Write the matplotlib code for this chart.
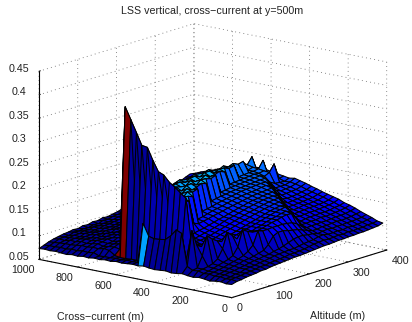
import numpy as np
import matplotlib
matplotlib.use("Agg")
import matplotlib.pyplot as plt
from matplotlib import colors as mcolors
from mpl_toolkits.mplot3d import Axes3D  # noqa

plt.rcParams['font.family'] = ['Liberation Sans', 'DejaVu Sans']

title = "LSS vertical, cross\u2212current at y=500m"
xlabel = "Altitude (m)"
ylabel = "Cross\u2212current (m)"
alt_ticks = [0, 100, 200, 300, 400]
cross_ticks = [0, 200, 400, 600, 800, 1000]
z_ticks = [0.05, 0.1, 0.15, 0.2, 0.25, 0.3, 0.35, 0.4, 0.45]
z_labels = ['0.05', '0.1', '0.15', '0.2', '0.25', '0.3', '0.35', '0.4', '0.45']

alt_m = [0, 13, 25, 38, 50, 63, 76, 88, 101, 113, 126, 139, 151, 164, 176, 189, 202, 214, 227, 239, 252, 265, 277, 290, 302, 315, 328, 340, 353, 365, 378, 390]
cross_m = [0, 29, 57, 86, 114, 143, 171, 200, 229, 257, 286, 314, 343, 371, 400, 429, 457, 486, 514, 543, 571, 600, 629, 657, 686, 714, 743, 771, 800, 829, 857, 886, 914, 943, 971, 1000]

# LSS, in thousandths; one row per altitude, columns follow cross_m
lss = [
[78,77,79,78,76,78,79,77,78,80,78,77,79,78,77,78,80,78,79,78,77,78,76,77,75,76,74,75,73,74,72,73,74,73,74,73],
[81,83,82,84,83,85,84,87,86,92,160,165,150,140,138,137,140,165,80,79,80,78,79,78,78,77,82,80,81,79,80,78,79,78,78,77],
[82,84,83,85,85,86,86,88,88,165,100,98,96,95,94,93,92,92,80,79,79,78,78,80,88,90,87,88,86,87,85,84,84,83,82,81],
[84,85,86,87,87,88,89,90,110,130,135,226,235,245,253,266,271,293,318,320,345,370,395,90,92,91,89,92,90,88,90,87,88,85,86,84],
[85,87,86,88,90,90,92,93,150,125,128,126,130,132,202,197,203,199,205,198,201,196,95,93,96,93,92,93,94,91,92,90,89,88,87,86],
[86,88,90,90,92,93,95,100,140,122,124,128,126,131,199,204,198,205,200,204,197,200,98,95,97,96,93,96,93,94,91,92,89,90,87,88],
[88,89,91,92,94,96,98,118,133,122,124,127,129,133,203,198,206,200,207,199,204,198,99,98,100,97,98,95,96,93,95,92,93,90,91,89],
[88,91,92,94,97,98,103,150,128,124,126,129,131,135,200,206,199,207,202,206,200,203,102,99,101,100,97,99,96,97,93,95,92,93,90,91],
[90,91,94,96,98,102,118,140,128,127,129,131,134,137,150,205,199,208,201,207,202,198,103,102,103,100,100,98,99,95,97,93,94,92,92,90],
[91,93,95,97,100,108,152,130,130,129,132,134,136,139,146,201,209,203,208,204,209,200,106,103,105,103,101,102,98,100,96,97,94,95,91,93],
[92,94,97,99,103,118,145,132,133,132,135,137,139,142,148,150,205,210,203,209,205,200,108,106,107,104,105,101,102,99,99,96,97,94,94,92],
[93,95,99,100,106,145,140,134,136,135,138,140,142,145,150,152,209,204,211,206,210,203,111,108,110,107,106,104,103,101,100,98,97,96,93,95],
[94,96,100,103,115,142,140,137,139,138,141,143,146,148,153,155,158,207,212,205,211,206,113,110,112,110,108,107,105,103,102,99,99,96,97,94],
[95,98,101,105,130,142,142,141,141,141,144,146,149,150,155,158,160,212,206,213,207,210,115,113,114,112,110,109,107,105,103,101,100,98,96,97],
[95,98,102,108,135,143,145,143,144,144,147,149,151,153,157,160,162,208,214,208,212,207,118,115,116,114,112,111,109,107,105,103,101,100,99,96],
[96,99,102,112,135,143,148,147,147,147,150,152,154,156,160,162,165,168,213,208,214,208,120,117,119,116,114,112,111,108,107,104,103,100,100,98],
[97,100,104,116,132,143,150,150,150,150,153,155,157,159,162,165,167,170,210,215,209,212,122,120,121,118,116,115,113,110,109,106,105,103,101,100],
[98,102,106,118,130,142,153,152,153,153,155,157,160,161,164,167,169,172,214,209,215,210,124,122,123,120,118,117,114,112,111,108,106,105,102,103],
[99,104,107,118,128,140,155,155,156,156,158,160,162,164,166,169,171,173,175,210,215,209,127,124,125,122,120,119,116,114,112,110,108,106,104,105],
[100,105,108,116,124,135,154,157,158,158,160,162,164,166,168,171,173,175,176,214,208,213,129,127,127,124,122,120,118,115,114,111,110,107,106,107],
[100,106,111,115,120,126,140,152,160,160,162,164,166,167,170,172,175,176,178,209,213,207,131,128,129,126,124,122,120,117,116,113,112,109,108,108],
[101,105,112,112,116,120,124,136,148,158,163,165,167,169,171,173,176,177,179,180,212,206,134,131,132,128,127,125,122,120,118,115,113,111,110,110],
[102,106,110,114,116,121,124,126,132,142,154,166,168,170,172,174,177,178,180,181,208,211,136,133,134,131,129,127,124,122,120,117,115,113,112,111],
[102,107,110,115,118,121,125,128,131,134,140,150,165,171,173,176,178,179,181,182,211,206,138,135,136,133,131,129,126,124,122,119,117,115,113,113],
[103,106,111,114,118,122,125,129,132,135,137,141,150,162,174,177,179,180,182,183,184,210,140,138,138,135,133,131,128,126,124,121,119,116,115,114],
[103,108,110,115,119,122,127,129,133,136,138,141,144,150,160,172,179,181,183,184,185,205,143,140,140,137,135,133,130,128,126,123,121,118,117,115],
[104,107,112,115,120,123,126,130,133,137,140,142,145,148,152,160,170,181,184,185,186,208,146,143,143,139,137,135,132,130,128,125,123,120,118,117],
[104,108,111,116,119,124,127,130,134,137,140,143,146,149,153,156,160,170,180,184,186,186,200,150,146,146,142,140,137,135,132,130,127,125,122,120],
[105,108,112,116,120,124,128,131,135,138,141,144,147,150,154,157,160,164,185,186,188,189,192,153,150,149,146,143,140,137,135,132,129,127,124,122],
[106,110,113,117,121,125,129,133,136,139,142,145,149,152,155,158,160,163,200,172,203,176,206,160,156,155,150,147,144,141,138,135,131,129,126,124],
[107,110,115,118,123,127,131,134,138,141,145,148,151,154,158,161,163,162,166,165,168,168,172,170,167,165,162,158,155,152,149,144,141,136,132,129],
[110,112,117,121,125,130,134,137,142,145,148,151,155,158,162,165,168,166,168,170,172,174,176,175,172,170,168,165,161,158,155,150,146,142,137,133],
]

fig = plt.figure(figsize=(4.12, 3.22), dpi=100)
ax = fig.add_axes([2.5 / 412, -4 / 322, 1, 1], projection='3d', proj_type='ortho')
ax.view_init(elev=14.3, azim=-141.2)
ax.set_box_aspect((1, 1, 0.785), zoom=1.206)
ax.patch.set_alpha(0)

A, C = np.meshgrid(alt_m, cross_m, indexing='ij')
Z = np.array(lss) / 1000.0
norm = mcolors.PowerNorm(1.5, vmin=0.05, vmax=0.41)
jet = plt.get_cmap('jet')
face = jet(norm(Z))
# the tall wall's crest takes the dark colour of its foot; only its far end stays hot
hot = jet(1.0)
face[3, 11:22] = face[2, 11:22]
face[3, 22] = hot
face[2, 21] = hot
face[2, 22] = hot
# the low front ridge's far end shows as a light strip
face[0, 16] = jet(norm(0.205))
surf = ax.plot_surface(A, C, Z, facecolors=face, rstride=1, cstride=1, shade=False,
                       edgecolor='black', linewidth=0.75, antialiased=True)
surf.set_clip_on(False)

ax.set_xlim(0, 400)
ax.set_ylim(0, 1000)
ax.set_zlim(0.05, 0.45)
ax.set_xticks(alt_ticks)
ax.set_yticks(cross_ticks)
ax.set_zticks(z_ticks)
ax.set_zticklabels(z_labels)
ax.tick_params(axis='x', labelsize=7.7, colors='#222222', pad=-5)
ax.tick_params(axis='y', labelsize=7.7, colors='#222222', pad=-5)
ax.tick_params(axis='z', labelsize=7.7, colors='#222222', pad=-1)

for axis in (ax.xaxis, ax.yaxis, ax.zaxis):
    axis.set_pane_color((1, 1, 1, 0))
    axis.pane.set_edgecolor((1, 1, 1, 0))
    axis.line.set_color('black')
    axis.line.set_linewidth(0.8)
    axis._axinfo['grid'].update(color='#666666', linewidth=0.6, linestyle=(0, (1, 4)))
    axis._axinfo['tick'].update(inward_factor=0.0, outward_factor=0.12, linewidth={True: 0.6, False: 0.6})
ax.zaxis.set_ticks_position('upper')

for t in ax.xaxis.get_major_ticks():
    t.label1.set_ha('left')
for t in ax.yaxis.get_major_ticks():
    t.label1.set_ha('right')
for t in ax.zaxis.get_major_ticks():
    t.label1.set_va('baseline')

fig.text(100 / 412, 1 - 317 / 322, ylabel, ha='center', va='center', fontsize=7.7, color='#222222')
fig.text(338 / 412, 1 - 316 / 322, xlabel, ha='center', va='center', fontsize=7.7, color='#222222')
fig.text(212 / 412, 1 - 11 / 322, title, ha='center', va='center', fontsize=7.7, color='#222222')

fig.savefig('out.png', dpi=100)
